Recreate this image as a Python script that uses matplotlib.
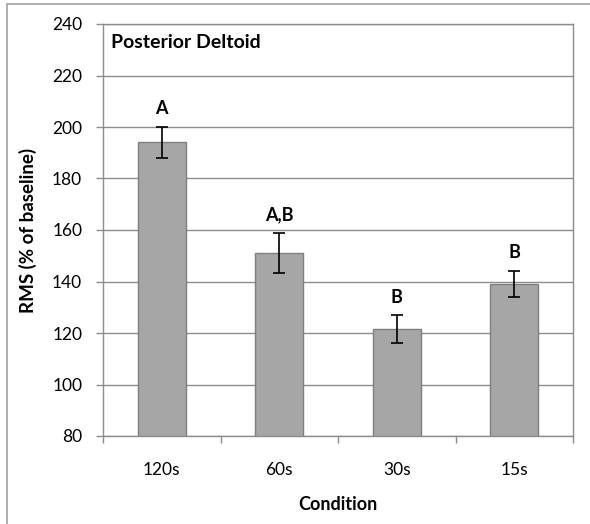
import matplotlib
matplotlib.use("Agg")
import matplotlib.pyplot as plt
from matplotlib.patches import Rectangle
import numpy as np

plt.rcParams['font.family'] = ['Lato', 'DejaVu Sans']

# Mean RMS per rest-interval condition, with error bars and post-hoc groupings
conditions = ["120s", "60s", "30s", "15s"]
rms_mean = [194.0, 151.0, 121.5, 139.0]
rms_err = [6.0, 7.7, 5.3, 5.2]
groups = ["A", "A,B", "B", "B"]
y_ticks = [80, 100, 120, 140, 160, 180, 200, 220, 240]

W, H, DPI = 590, 524, 100
fig = plt.figure(figsize=(W / DPI, H / DPI), dpi=DPI)
ax = fig.add_axes([103 / W, 1 - 436 / H, 470 / W, 412 / H])

grey = "#8c8c8c"
x = np.arange(len(conditions))

ax.bar(x, [m - 80 for m in rms_mean], bottom=80, width=0.41,
       color="#a6a6a6", edgecolor="#7f7f7f", linewidth=1.0, zorder=3)
ax.errorbar(x, rms_mean, yerr=rms_err, fmt="none", ecolor="black",
            elinewidth=1.2, capsize=4.5, capthick=1.2, zorder=4)

for xi, m, e, g in zip(x, rms_mean, rms_err, groups):
    ax.annotate(g, (xi, m + e), xytext=(0, 7), textcoords="offset points",
                ha="center", va="bottom", fontsize=13, fontweight="bold")

ax.set_xlim(-0.5, len(conditions) - 0.5)
ax.set_ylim(80, 240)
ax.set_yticks(y_ticks)
ax.set_xticks(x)
ax.set_xticklabels(conditions)
ax.set_xticks(np.arange(-0.5, len(conditions)), minor=True)
ax.tick_params(axis="x", which="major", length=0, pad=19, labelsize=12.5)
ax.tick_params(axis="x", which="minor", length=5, width=1, color=grey, direction="out")
ax.tick_params(axis="y", length=5, width=1, color=grey, direction="out", pad=10, labelsize=12.5)

ax.yaxis.grid(True, color=grey, linewidth=1.0, zorder=0)
ax.set_axisbelow(True)
for s in ax.spines.values():
    s.set_color(grey)
    s.set_linewidth(1.0)

ax.set_xlabel("Condition", fontsize=13, fontweight="bold", va="center")
ax.xaxis.set_label_coords(0.5, (436 - 504) / 412)
ax.set_ylabel("RMS (% of baseline)", fontsize=13.5, fontweight="bold", va="center")
ax.yaxis.set_label_coords((28 - 103) / 470, 0.5)
ax.text((111 - 103) / 470, (436 - 48) / 412, "Posterior Deltoid", transform=ax.transAxes,
        fontsize=14, fontweight="bold", ha="left", va="baseline")

# chart-area frame
fig.patches.append(Rectangle((7 / W, -0.1), 1.2, 1 - 4 / H + 0.1,
                             transform=fig.transFigure, fill=False,
                             edgecolor="#a0a0a0", linewidth=1.2))

fig.savefig("out.png", dpi=DPI)
